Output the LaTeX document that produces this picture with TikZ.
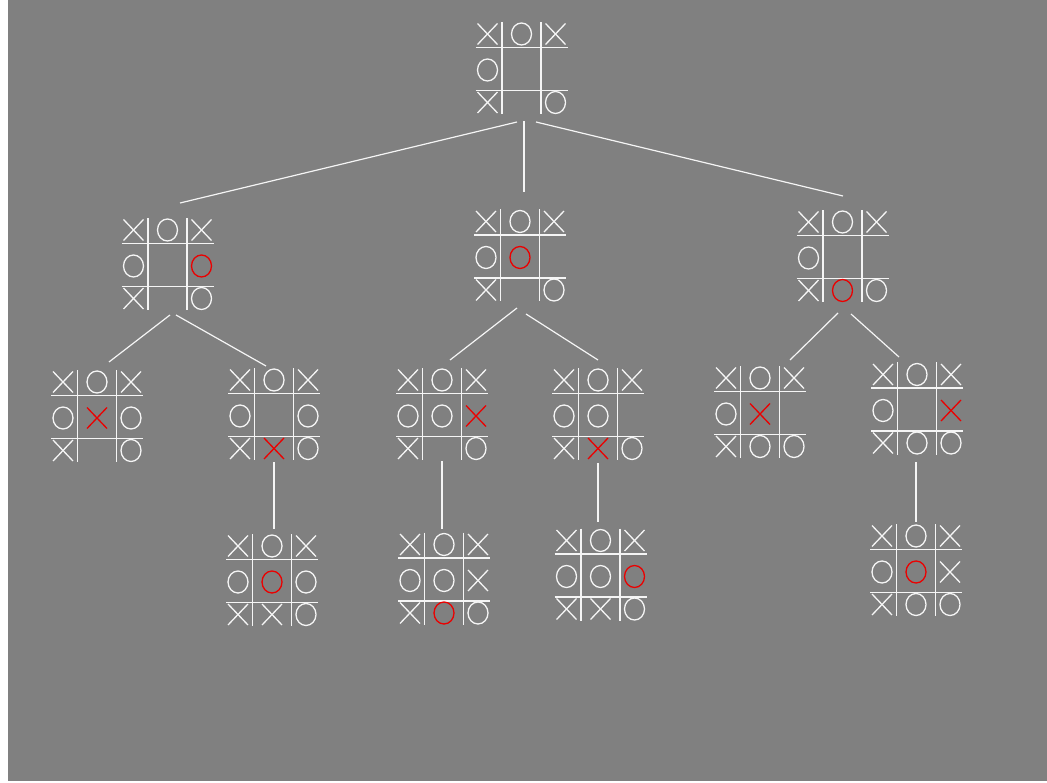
\documentclass[tikz,border=0pt]{standalone}
\usetikzlibrary{calc}
\definecolor{panel}{RGB}{128,128,128}
\definecolor{chalk}{RGB}{245,245,245}
\definecolor{hot}{RGB}{235,0,0}

\begin{document}
\begin{tikzpicture}[
  x=1pt, y=-1pt,
  board/.style={minimum size=92pt, inner sep=0pt, outer sep=0pt},
  gridline/.style={draw=chalk, line width=1.8pt},
  link/.style={draw=chalk, line width=1.2pt},
  mk/.style={draw=#1, line width=1.3pt},
  %---- one cell mark: x/o white, X/O red, - empty ----
  pics/sym/.style={code={
    \if#1x\draw[mk=chalk] (-10,-10.5) -- (10,10.5) (-10,10.5) -- (10,-10.5);\fi
    \if#1o\draw[mk=chalk] (0,0) ellipse (10 and 11);\fi
    \if#1X\draw[mk=hot] (-10,-10.5) -- (10,10.5) (-10,10.5) -- (10,-10.5);\fi
    \if#1O\draw[mk=hot] (0,0) ellipse (10 and 11);\fi}},
]
\newcommand{\board}[3]{% name, centre, nine marks row by row
  \node[board] (#1) at (#2) {};
  \draw[gridline] ($(#1)+(-19.5,-46)$) -- ++(0,92) ($(#1)+(19.5,-46)$) -- ++(0,92)
                  ($(#1)+(-46,-20.5)$) -- ++(92,0) ($(#1)+(-46,22.5)$) -- ++(92,0);
  \foreach \s [count=\k from 0] in {#3}{
    \pgfmathsetmacro{\mx}{34*(mod(\k,3)-1)}
    \pgfmathsetmacro{\my}{{-34,2,34.5}[div(\k,3)]}
    \pic at ($(#1)+(\mx,\my)$) {sym=\s};}}

\useasboundingbox (0,0) rectangle (1047,783);
\fill[white] (0,0) rectangle (1047,783);
\fill[panel] (8,0) rectangle (1047,781);

% ---------- root ----------
\board{root}{521.5,68}{x,o,x, o,-,-, x,-,o}
% ---------- level 1 ----------
\board{b1}{167.5,264}{x,o,x, o,-,O, x,-,o}
\board{b2}{520,255.5}{x,o,x, o,O,-, x,-,o}
\board{b3}{842.5,256}{x,o,x, o,-,-, x,O,o}
% ---------- level 2 ----------
\board{c1}{97,416}{x,o,x, o,X,o, x,-,o}
\board{c2}{274,414}{x,o,x, o,-,o, x,X,o}
\board{c3}{442,414}{x,o,x, o,o,X, x,-,o}
\board{c4}{598,414}{x,o,x, o,o,-, x,X,o}
\board{c5}{760,412}{x,o,x, o,X,-, x,o,o}
\board{c6}{917,408.5}{x,o,x, o,-,X, x,o,o}
% ---------- level 3 ----------
\board{d1}{272,580}{x,o,x, o,O,o, x,x,o}
\board{d2}{444,578.5}{x,o,x, o,o,x, x,O,o}
\board{d3}{600.5,574.5}{x,o,x, o,o,O, x,x,o}
\board{d4}{916,570}{x,o,x, o,O,x, x,o,o}

% ---------- links ----------
\draw[link] ($(root.south)+(-4.5,8)$) -- ($(b1.north)+(12.5,-15)$);
\draw[link] ($(root.south)+(2.5,7)$) -- ($(b2.north)+(4,-17.5)$);
\draw[link] ($(root.south)+(14.5,8)$) -- ($(b3.north)+(0.5,-14)$);
\draw[link] ($(b1.south)+(2.5,5)$) -- ($(c1.north)+(12,-8)$);
\draw[link] ($(b1.south)+(8.5,5)$) -- ($(c2.north)+(-8,-2)$);
\draw[link] ($(b2.south)+(-3,6.5)$) -- ($(c3.north)+(8,-8)$);
\draw[link] ($(b2.south)+(6,12.5)$) -- ($(c4.north)+(0,-8)$);
\draw[link] ($(b3.south)+(-4.5,11)$) -- ($(c5.north)+(30,-6)$);
\draw[link] ($(b3.south)+(8.5,12)$) -- ($(c6.north)+(-18,-5.5)$);
\draw[link] ($(c2.south)+(0,2)$) -- ($(d1.north)+(2,-5)$);
\draw[link] ($(c3.south)+(0,1)$) -- ($(d2.north)+(-2,-3.5)$);
\draw[link] ($(c4.south)+(0,3)$) -- ($(d3.north)+(-2.5,-6.5)$);
\draw[link] ($(c6.south)+(-1,7.5)$) -- ($(d4.north)+(0,-2)$);
\end{tikzpicture}
\end{document}
